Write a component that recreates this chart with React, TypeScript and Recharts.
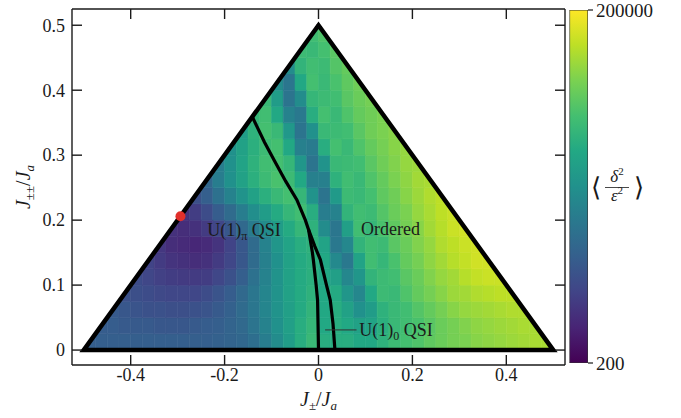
import { Area, ComposedChart, Label, Line, ReferenceArea, Scatter, XAxis, YAxis } from 'recharts';

// <delta^2/eps^2>. One list per strip of height 0.025 in J±±/Ja
// (bottom strip first), cells 0.025 wide running left to right from the triangle's left edge.
const ROW_00 = [1600, 1600, 1600, 1600, 1600, 1600, 1600, 1600, 1600, 1600, 1600, 1700, 1800, 2000, 2400, 3600, 5500, 8900, 14500, 20500, 14500, 14500, 14500, 12600, 12600, 16600, 21900, 25200, 28900, 35600, 40800, 46900, 50200, 57700, 61800, 66200, 71000, 76000, 81500, 81500];
const ROW_01 = [1500, 1500, 1400, 1400, 1400, 1300, 1300, 1300, 1400, 1500, 1600, 1800, 2100, 2800, 4200, 6300, 9600, 14500, 19100, 12600, 14500, 12600, 10300, 11000, 15500, 20500, 23500, 27000, 33200, 40800, 46900, 53800, 61800, 66200, 71000, 76000, 81500, 81500];
const ROW_02 = [1400, 1300, 1200, 1100, 1100, 1050, 1050, 1100, 1200, 1400, 1700, 2200, 3000, 4500, 6800, 9600, 13500, 17800, 12600, 14500, 10300, 6300, 8900, 16600, 20500, 23500, 31000, 38100, 46900, 57700, 66200, 71000, 76000, 81500, 87300, 87300];
const ROW_03 = [1100, 1050, 980, 910, 850, 850, 850, 980, 1200, 1500, 2100, 3000, 4500, 6800, 10300, 13500, 16600, 12600, 13500, 7300, 4800, 12600, 21900, 20500, 28900, 38100, 46900, 57700, 71000, 76000, 87300, 93500, 100000, 100000];
const ROW_04 = [980, 850, 740, 690, 650, 650, 690, 850, 1100, 1600, 2600, 4200, 6800, 10300, 13500, 15500, 12600, 9600, 4800, 7300, 17800, 21900, 23500, 33200, 40800, 53800, 66200, 76000, 93500, 107000, 115000, 115000];
const ROW_05 = [800, 650, 560, 530, 490, 530, 650, 850, 1300, 2200, 3900, 6300, 10300, 13500, 15500, 12600, 5100, 3200, 11000, 23500, 19100, 27000, 38100, 46900, 61800, 76000, 93500, 107000, 123000, 123000];
const ROW_06 = [600, 490, 460, 430, 460, 560, 800, 1300, 2200, 4200, 7300, 11000, 14500, 16600, 11000, 3200, 4800, 17800, 23500, 21900, 33200, 40800, 53800, 66200, 87300, 100000, 115000, 123000];
const ROW_07 = [530, 490, 530, 650, 850, 1300, 2100, 3400, 5500, 8900, 13500, 19100, 16600, 5500, 3000, 9600, 23500, 19100, 27000, 35600, 46900, 57700, 76000, 93500, 115000, 123000];
const ROW_08 = [560, 690, 980, 1500, 2200, 3600, 5900, 8900, 13500, 19100, 23500, 14500, 3600, 4200, 17800, 23500, 21900, 31000, 40800, 50200, 66200, 81500, 100000, 115000];
const ROW_09 = [1050, 1600, 2600, 4200, 6800, 10300, 15500, 20500, 25200, 19100, 6800, 2800, 8300, 21900, 20500, 25200, 35600, 43800, 57700, 71000, 87300, 100000];
const ROW_10 = [2000, 3600, 6300, 10300, 15500, 21900, 27000, 21900, 12600, 3900, 3900, 16600, 23500, 20500, 28900, 38100, 50200, 61800, 76000, 81500];
const ROW_11 = [3600, 6300, 11000, 16600, 23500, 25200, 19100, 7300, 2800, 6800, 20500, 21900, 23500, 33200, 43800, 53800, 66200, 71000];
const ROW_12 = [6300, 10300, 15500, 21900, 25200, 12600, 3900, 3400, 14500, 25200, 20500, 28900, 38100, 46900, 57700, 66200];
const ROW_13 = [8900, 16600, 25200, 20500, 7800, 2800, 6300, 20500, 21900, 23500, 33200, 43800, 50200, 57700];
const ROW_14 = [19100, 23500, 12600, 4200, 3200, 14500, 25200, 20500, 28900, 38100, 43800, 50200];
const ROW_15 = [20500, 8900, 2800, 5500, 19100, 21900, 23500, 33200, 40800, 46900];
const ROW_16 = [5500, 3000, 12600, 25200, 20500, 27000, 35600, 43800];
const ROW_17 = [5500, 17800, 23500, 21900, 31000, 38100];
const ROW_18 = [21900, 20500, 25200, 33200];
const ROW_19 = [23500, 28900];

const HEAT_ROWS = [
  ROW_00, ROW_01, ROW_02, ROW_03, ROW_04, ROW_05, ROW_06, ROW_07, ROW_08, ROW_09,
  ROW_10, ROW_11, ROW_12, ROW_13, ROW_14, ROW_15, ROW_16, ROW_17, ROW_18, ROW_19,
];
const GRID_STEP = 0.025;

const X_TICKS = [-0.4, -0.2, 0, 0.2, 0.4];
const Y_TICKS = [0, 0.1, 0.2, 0.3, 0.4, 0.5];
const CBAR_MIN = 200;
const CBAR_MAX = 200000;
const CBAR_TICKS = [200, 200000];

// phase boundaries
const TRIANGLE_EDGE = [
  { x: -0.5, y: 0 }, { x: 0, y: 0.5 }, { x: 0.5, y: 0 }, { x: -0.5, y: 0 }, { x: 0, y: 0.5 },
];
const PI_BOUNDARY = [
  { x: -0.141, y: 0.359 }, { x: -0.115, y: 0.32 }, { x: -0.095, y: 0.293 }, { x: -0.07, y: 0.26 },
  { x: -0.046, y: 0.231 }, { x: -0.028, y: 0.2 }, { x: -0.021, y: 0.185 }, { x: -0.013, y: 0.15 },
  { x: -0.011, y: 0.139 }, { x: -0.005, y: 0.1 }, { x: -0.002, y: 0.077 }, { x: -0.001, y: 0.04 },
  { x: 0, y: 0 },
];
const ZERO_BOUNDARY = [
  { x: -0.021, y: 0.185 }, { x: -0.008, y: 0.16 }, { x: 0.004, y: 0.139 }, { x: 0.017, y: 0.1 },
  { x: 0.025, y: 0.077 }, { x: 0.031, y: 0.04 }, { x: 0.035, y: 0 },
];
const MARKED_POINT = [{ x: -0.294, y: 0.206 }];
const LEADER = [{ x: 0.014, y: 0.031 }, { x: 0.081, y: 0.031 }];
const PHASE_LABELS = [
  { x: -0.237, y: 0.186, text: 'U(1)', sub: 'π', rest: ' QSI' },
  { x: 0.0907, y: 0.187, text: 'Ordered', sub: '', rest: '' },
  { x: 0.087, y: 0.031, text: 'U(1)', sub: '0', rest: ' QSI' },
];
// white outside the triangle
const OUTSIDE_MASK = [
  { x: -0.525, band: [-0.025, 0.525] },
  { x: 0, band: [0.5, 0.525] },
  { x: 0.525, band: [-0.025, 0.525] },
];
// colour bar body, spanning the whole colour range
const CBAR_BODY = [
  { x: 0, band: [CBAR_MIN, CBAR_MAX] },
  { x: 1, band: [CBAR_MIN, CBAR_MAX] },
];
const CBAR_LEFT = [{ x: 0, v: CBAR_MIN }, { x: 0, v: CBAR_MAX }];
const CBAR_RIGHT = [{ x: 1, v: CBAR_MIN }, { x: 1, v: CBAR_MAX }];

const VIRIDIS = ['#440154', '#482475', '#414487', '#355f8d', '#2a788e', '#21918c', '#22a884', '#44bf70', '#7ad151', '#bddf26', '#fde725'];
const FONT = "'Liberation Serif', 'Times New Roman', Times, serif";
const INK = '#1a1a1a';

const hexToRgb = (h: string) => [1, 3, 5].map((i) => parseInt(h.slice(i, i + 2), 16));

const colorFor = (v: number) => {
  const t = Math.min(1, Math.max(0, Math.log10(v / CBAR_MIN) / Math.log10(CBAR_MAX / CBAR_MIN)));
  const pos = t * (VIRIDIS.length - 1);
  const i = Math.min(VIRIDIS.length - 2, Math.floor(pos));
  const f = pos - i;
  const a = hexToRgb(VIRIDIS[i]);
  const b = hexToRgb(VIRIDIS[i + 1]);
  const c = a.map((av, k) => Math.round(av + (b[k] - av) * f));
  return `rgb(${c[0]},${c[1]},${c[2]})`;
};

const cells = HEAT_ROWS.flatMap((row, j) =>
  row.map((value, k) => ({
    x1: -0.5 + (j + k) * GRID_STEP,
    x2: -0.5 + (j + k + 1) * GRID_STEP,
    y1: j * GRID_STEP,
    y2: (j + 1) * GRID_STEP,
    color: colorFor(value),
  })),
);

const fmt = (v: number) => (v === 0 ? '0' : v.toFixed(1));
const tickText = { fontFamily: FONT, fontSize: 18, fill: INK };

const BottomTick = ({ x, y, payload }: any) => (
  <g>
    <line x1={x} x2={x} y1={y} y2={y - 10} stroke={INK} strokeWidth={1.4} />
    <text x={x} y={y + 3} dy="0.71em" textAnchor="middle" {...tickText}>{fmt(payload.value)}</text>
  </g>
);
const TopTick = ({ x, y }: any) => <line x1={x} x2={x} y1={y} y2={y + 10} stroke={INK} strokeWidth={1.4} />;
const LeftTick = ({ x, y, payload }: any) => (
  <g>
    <line x1={x} x2={x + 10} y1={y} y2={y} stroke={INK} strokeWidth={1.4} />
    <text x={x - 7} y={y} dy="0.35em" textAnchor="end" {...tickText}>{fmt(payload.value)}</text>
  </g>
);
const RightTick = ({ x, y }: any) => <line x1={x - 10} x2={x} y1={y} y2={y} stroke={INK} strokeWidth={1.4} />;

const XTitle = (props: any) => {
  const vb = props.viewBox;
  return (
    <text x={vb.x + vb.width / 2} y={vb.y + 41} textAnchor="middle" fontFamily={FONT} fontSize={20} fill={INK}>
      <tspan fontStyle="italic">J</tspan>
      <tspan fontSize={13} dy={4}>±</tspan>
      <tspan dy={-4}>/</tspan>
      <tspan fontStyle="italic">J</tspan>
      <tspan fontStyle="italic" fontSize={13} dy={4}>a</tspan>
    </text>
  );
};

const YTitle = (props: any) => {
  const vb = props.viewBox;
  const x = vb.x + 8;
  const y = vb.y + vb.height / 2;
  return (
    <text x={x} y={y} transform={`rotate(-90 ${x} ${y})`} textAnchor="middle" fontFamily={FONT} fontSize={20} fill={INK}>
      <tspan fontStyle="italic">J</tspan>
      <tspan fontSize={13} dy={4}>±±</tspan>
      <tspan dy={-4}>/</tspan>
      <tspan fontStyle="italic">J</tspan>
      <tspan fontStyle="italic" fontSize={13} dy={4}>a</tspan>
    </text>
  );
};

const ColorbarTitle = (props: any) => {
  const vb = props.viewBox;
  const cx = vb.x + 29;
  const mid = vb.y + vb.height / 2;
  return (
    <g fill={INK}>
      <text x={vb.x + 3} y={mid + 9} fontSize={26} fontFamily="'DejaVu Sans', serif" fontWeight={300}>⟨</text>
      <text x={cx} y={mid - 5} textAnchor="middle" fontSize={17} fontFamily={FONT}>
        <tspan fontStyle="italic">δ</tspan>
        <tspan fontSize={11} dy={-7}>2</tspan>
      </text>
      <line x1={cx - 12} x2={cx + 12} y1={mid + 1} y2={mid + 1} stroke={INK} strokeWidth={0.8} />
      <text x={cx} y={mid + 14} textAnchor="middle" fontSize={17} fontFamily={FONT}>
        <tspan fontStyle="italic">ε</tspan>
        <tspan fontSize={11} dy={-7}>2</tspan>
      </text>
      <text x={vb.x + 46} y={mid + 9} fontSize={26} fontFamily="'DejaVu Sans', serif" fontWeight={300}>⟩</text>
    </g>
  );
};

const PhaseLabel = ({ cx, cy, payload }: any) => (
  <text x={cx} y={cy} dy="0.35em" fontFamily={FONT} fontSize={18} fill={INK}>
    {payload.text}
    {payload.sub ? <tspan fontSize={12} dy={4}>{payload.sub}</tspan> : null}
    {payload.rest ? <tspan dy={payload.sub ? -4 : 0}>{payload.rest}</tspan> : null}
  </text>
);

export default function App() {
  return (
    <div style={{ position: 'absolute', left: 0, top: 0, width: 681, height: 418, background: '#fff' }}>
      <div style={{ position: 'absolute', left: 0, top: 0 }}>
        <ComposedChart width={681} height={418} margin={{ top: 4, right: 106, bottom: 8, left: 22 }}>
          {cells.map((c, i) => (
            <ReferenceArea
              key={i}
              x1={c.x1}
              x2={c.x2}
              y1={c.y1}
              y2={c.y2}
              fill={c.color}
              fillOpacity={1}
              stroke={c.color}
              strokeWidth={0.6}
              ifOverflow="visible"
              zIndex={50}
            />
          ))}
          <Area
            data={OUTSIDE_MASK}
            dataKey="band"
            type="linear"
            fill="#fff"
            fillOpacity={1}
            stroke="none"
            dot={false}
            activeDot={false}
            isAnimationActive={false}
            zIndex={100}
          />
          <Line data={TRIANGLE_EDGE} dataKey="y" type="linear" stroke="#000" strokeWidth={4.5} strokeLinejoin="miter" dot={false} activeDot={false} isAnimationActive={false} zIndex={400} />
          <Line data={PI_BOUNDARY} dataKey="y" type="linear" stroke="#000" strokeWidth={3.2} dot={false} activeDot={false} isAnimationActive={false} zIndex={400} />
          <Line data={ZERO_BOUNDARY} dataKey="y" type="linear" stroke="#000" strokeWidth={3.2} dot={false} activeDot={false} isAnimationActive={false} zIndex={400} />
          <Line data={LEADER} dataKey="y" type="linear" stroke="#333" strokeWidth={1} dot={false} activeDot={false} isAnimationActive={false} zIndex={400} />
          <XAxis
            type="number"
            dataKey="x"
            domain={[-0.525, 0.525]}
            allowDataOverflow
            ticks={X_TICKS}
            interval={0}
            height={45}
            tickSize={0}
            tickMargin={0}
            tickLine={false}
            axisLine={{ stroke: INK, strokeWidth: 1.4 }}
            tick={(p: any) => <BottomTick {...p} />}
          >
            <Label content={XTitle} />
          </XAxis>
          <XAxis
            xAxisId="top"
            orientation="top"
            type="number"
            dataKey="x"
            domain={[-0.525, 0.525]}
            allowDataOverflow
            ticks={X_TICKS}
            interval={0}
            height={5}
            tickSize={0}
            tickMargin={0}
            tickLine={false}
            axisLine={{ stroke: INK, strokeWidth: 1.4 }}
            tick={(p: any) => <TopTick {...p} />}
          />
          <YAxis
            type="number"
            domain={[-0.023, 0.525]}
            allowDataOverflow
            ticks={Y_TICKS}
            interval={0}
            width={50}
            tickSize={0}
            tickMargin={0}
            tickLine={false}
            axisLine={{ stroke: INK, strokeWidth: 1.4 }}
            tick={(p: any) => <LeftTick {...p} />}
          >
            <Label content={YTitle} />
          </YAxis>
          <YAxis
            yAxisId="right"
            orientation="right"
            type="number"
            domain={[-0.023, 0.525]}
            allowDataOverflow
            ticks={Y_TICKS}
            interval={0}
            width={10}
            tickSize={0}
            tickMargin={0}
            tickLine={false}
            axisLine={{ stroke: INK, strokeWidth: 1.4 }}
            tick={(p: any) => <RightTick {...p} />}
          />
          <Scatter
            data={MARKED_POINT}
            dataKey="y"
            isAnimationActive={false}
            zIndex={600}
            shape={(p: any) => <circle cx={p.cx} cy={p.cy} r={5} fill="#e2302b" />}
          />
          <Scatter
            data={PHASE_LABELS}
            dataKey="y"
            isAnimationActive={false}
            zIndex={700}
            shape={(p: any) => <PhaseLabel {...p} />}
          />
        </ComposedChart>
      </div>
      <div style={{ position: 'absolute', left: 560, top: 0 }}>
        <ComposedChart width={121} height={418} margin={{ top: 10, right: 43, bottom: 55, left: 9.5 }}>
          <defs>
            <linearGradient id="viridis-bar" x1="0" y1="1" x2="0" y2="0">
              {VIRIDIS.map((c, i) => (
                <stop key={c} offset={i / (VIRIDIS.length - 1)} stopColor={c} />
              ))}
            </linearGradient>
          </defs>
          <XAxis type="number" dataKey="x" domain={[0, 1]} allowDataOverflow hide />
          <YAxis
            type="number"
            orientation="right"
            scale="log"
            domain={[CBAR_MIN, CBAR_MAX]}
            allowDataOverflow
            ticks={CBAR_TICKS}
            interval={0}
            width={50}
            tickSize={5}
            tickMargin={3}
            axisLine={false}
            tickLine={{ stroke: INK, strokeWidth: 1.2 }}
            tick={{ fontSize: 19, fontFamily: FONT, fill: INK }}
          >
            <Label content={ColorbarTitle} />
          </YAxis>
          <Area
            data={CBAR_BODY}
            dataKey="band"
            type="linear"
            fill="url(#viridis-bar)"
            fillOpacity={1}
            stroke="#333"
            strokeWidth={1.2}
            dot={false}
            activeDot={false}
            isAnimationActive={false}
          />
          <Line data={CBAR_LEFT} dataKey="v" type="linear" stroke="#333" strokeWidth={1.2} dot={false} activeDot={false} isAnimationActive={false} />
          <Line data={CBAR_RIGHT} dataKey="v" type="linear" stroke="#333" strokeWidth={1.2} dot={false} activeDot={false} isAnimationActive={false} />
        </ComposedChart>
      </div>
    </div>
  );
}
